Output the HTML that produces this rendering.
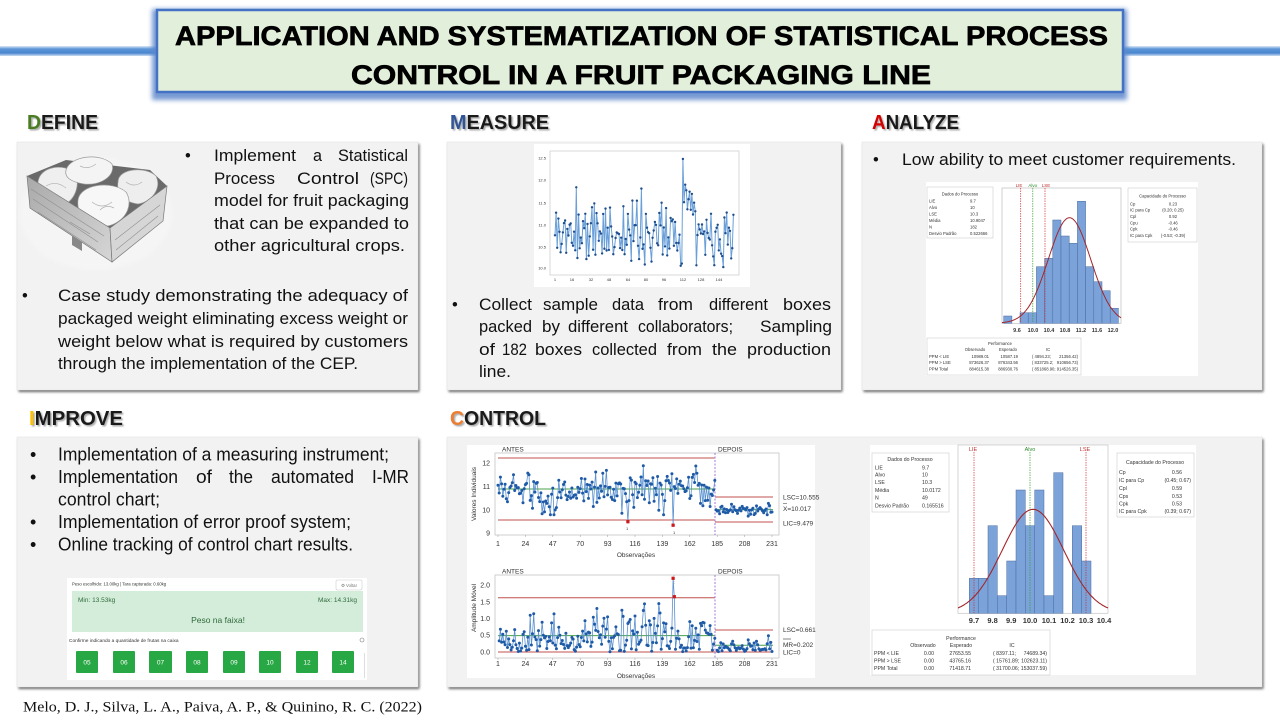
<!DOCTYPE html>
<html><head><meta charset="utf-8">
<style>
html,body{margin:0;padding:0;background:#fff;}
svg{display:block;}
text{font-family:"Liberation Sans",Arial,sans-serif;}
.t{fill:#111;}
.sm{fill:#333;}
</style></head><body>
<svg id="S" width="1280" height="720" viewBox="0 0 1280 720" xmlns="http://www.w3.org/2000/svg">
<defs>
<linearGradient id="bl" x1="0" y1="0" x2="0" y2="1">
<stop offset="0" stop-color="#dbe7f6"/><stop offset="0.3" stop-color="#5c96d8"/><stop offset="0.7" stop-color="#4a86cf"/><stop offset="1" stop-color="#cadcf2"/></linearGradient>
<linearGradient id="fa" x1="0" y1="0" x2="1" y2="1"><stop offset="0" stop-color="#a9a9a9"/><stop offset="1" stop-color="#d6d6d6"/></linearGradient>
<filter id="f1" x="-5%" y="-10%" width="110%" height="120%"><feGaussianBlur stdDeviation="1.3"/></filter>
<filter id="f2" x="-10%" y="-20%" width="120%" height="140%"><feGaussianBlur stdDeviation="2.5"/></filter>
<filter id="f05" x="-10%" y="-30%" width="120%" height="160%"><feGaussianBlur stdDeviation="0.7"/></filter>
</defs>
<rect width="1280" height="720" fill="#fff"/>

<!-- blue line + title -->
<rect x="0" y="46" width="1280" height="10" fill="url(#bl)"/>
<rect x="152" y="9" width="975" height="91" fill="#5f88cc" filter="url(#f2)" opacity="0.85"/>
<rect x="157" y="10" width="966" height="82" fill="#e2efda" stroke="#4472c4" stroke-width="2.5"/>
<text x="175" y="45" font-size="27" font-weight="bold" fill="#000" stroke="#000" stroke-width="0.7" textLength="933" lengthAdjust="spacingAndGlyphs">APPLICATION AND SYSTEMATIZATION OF STATISTICAL PROCESS</text>
<text x="351" y="84" font-size="27" font-weight="bold" fill="#000" stroke="#000" stroke-width="0.7" textLength="580" lengthAdjust="spacingAndGlyphs">CONTROL IN A FRUIT PACKAGING LINE</text>

<!-- headings -->
<g font-weight="bold">
<text x="28.5" y="130.5" font-size="20" fill="#aaa" textLength="71" lengthAdjust="spacingAndGlyphs" filter="url(#f05)">DEFINE</text>
<text x="27" y="129" font-size="20" fill="#1a1a1a" textLength="71" lengthAdjust="spacingAndGlyphs"><tspan fill="#4a7d22">D</tspan>EFINE</text>
<text x="451.5" y="130.5" font-size="20" fill="#aaa" textLength="99" lengthAdjust="spacingAndGlyphs" filter="url(#f05)">MEASURE</text>
<text x="450" y="129" font-size="20" fill="#1a1a1a" textLength="99" lengthAdjust="spacingAndGlyphs"><tspan fill="#2f5597">M</tspan>EASURE</text>
<text x="873.5" y="130.5" font-size="20" fill="#aaa" textLength="87" lengthAdjust="spacingAndGlyphs" filter="url(#f05)">ANALYZE</text>
<text x="872" y="129" font-size="20" fill="#1a1a1a" textLength="87" lengthAdjust="spacingAndGlyphs"><tspan fill="#d40000">A</tspan>NALYZE</text>
<text x="30.5" y="426.5" font-size="20" fill="#aaa" textLength="94" lengthAdjust="spacingAndGlyphs" filter="url(#f05)">IMPROVE</text>
<text x="29" y="425" font-size="20" fill="#1a1a1a" textLength="94" lengthAdjust="spacingAndGlyphs"><tspan fill="#ffc000">I</tspan>MPROVE</text>
<text x="451.5" y="426.5" font-size="20" fill="#aaa" textLength="96" lengthAdjust="spacingAndGlyphs" filter="url(#f05)">CONTROL</text>
<text x="450" y="425" font-size="20" fill="#1a1a1a" textLength="96" lengthAdjust="spacingAndGlyphs"><tspan fill="#ed7d31">C</tspan>ONTROL</text>
</g>

<!-- boxes -->
<g fill="#6a6a6a" filter="url(#f1)">
<rect x="18.5" y="144" width="401" height="248"/>
<rect x="448.5" y="144" width="394" height="248"/>
<rect x="863.5" y="144" width="400" height="248"/>
<rect x="18.5" y="439" width="401" height="250"/>
<rect x="448.5" y="439" width="815" height="250"/>
</g>
<g fill="#f2f2f2" stroke="#e2e2e2" stroke-width="0.5">
<rect x="17" y="142" width="401" height="248"/>
<rect x="447" y="142" width="394" height="248"/>
<rect x="862" y="142" width="400" height="248"/>
<rect x="17" y="437" width="401" height="250"/>
<rect x="447" y="437" width="815" height="250"/>
</g>

<!-- DEFINE crate -->
<g>
<ellipse cx="96" cy="214" rx="76" ry="56" fill="#f8f7f7" filter="url(#f2)" opacity="0.7"/>
<polygon points="27,176 66,160 150,170 167,186 110,228" fill="#6a6a6a"/>
<path d="M38,186 C36,168 60,162 74,172 C80,180 78,196 66,204 C52,208 40,200 38,186Z" fill="#efefef" stroke="#999" stroke-width="0.7"/>
<path d="M66,170 C70,156 100,152 112,164 C116,176 100,186 84,184 C72,182 64,178 66,170Z" fill="#f4f4f4" stroke="#999" stroke-width="0.7"/>
<path d="M118,182 C118,168 146,166 156,176 C162,188 152,202 138,204 C124,202 116,194 118,182Z" fill="#eeeeee" stroke="#999" stroke-width="0.7"/>
<path d="M78,200 C80,184 112,180 126,192 C134,204 126,222 108,226 C90,226 76,216 78,200Z" fill="#f7f7f7" stroke="#999" stroke-width="0.7"/>
<path d="M46,186 q10,-6 20,2 M80,166 q8,4 16,-2 M92,202 q10,8 20,0 M126,182 q8,6 16,0 M100,210 q6,-6 14,-2" stroke="#b0b0b0" stroke-width="0.7" fill="none"/>
<polygon points="27,176 110,228 112,262 30,208" fill="url(#fa)" stroke="#777" stroke-width="0.7"/>
<polygon points="110,228 167,186 163,221 112,262" fill="#d6d6d6" stroke="#777" stroke-width="0.7"/>
<path d="M31,189 L104,236 M33,199 L98,242 M38,212 L96,250 M115,240 L160,205 M116,250 L158,216 M40,184 L60,197 M70,222 L90,234" stroke="#8f8f8f" stroke-width="0.6"/>
<path d="M72,236 l10,6 l0,9 l-10,-6z" fill="#888"/>
</g>

<!-- DEFINE text -->
<g font-size="16.5" class="t">
<text x="185" y="161">•</text>
<text x="214" y="161" textLength="82" lengthAdjust="spacingAndGlyphs">Implement</text>
<text x="313" y="161" textLength="9" lengthAdjust="spacingAndGlyphs">a</text>
<text x="338" y="161" textLength="70" lengthAdjust="spacingAndGlyphs">Statistical</text>
<text x="214" y="184" textLength="61" lengthAdjust="spacingAndGlyphs">Process</text>
<text x="297" y="184" textLength="62" lengthAdjust="spacingAndGlyphs">Control</text>
<text x="370" y="184" textLength="38" lengthAdjust="spacingAndGlyphs">(SPC)</text>
<text x="214" y="206" textLength="195" lengthAdjust="spacingAndGlyphs">model for fruit packaging</text>
<text x="214" y="229" textLength="195" lengthAdjust="spacingAndGlyphs">that can be expanded to</text>
<text x="214" y="251" textLength="191" lengthAdjust="spacingAndGlyphs">other agricultural crops.</text>
<text x="22" y="301">•</text>
<text x="58" y="301" textLength="350" lengthAdjust="spacingAndGlyphs">Case study demonstrating the adequacy of</text>
<text x="58" y="324" textLength="350" lengthAdjust="spacingAndGlyphs">packaged weight eliminating excess weight or</text>
<text x="58" y="347" textLength="350" lengthAdjust="spacingAndGlyphs">weight below what is required by customers</text>
<text x="58" y="369" textLength="300" lengthAdjust="spacingAndGlyphs">through the implementation of the CEP.</text>
</g>

<!-- MEASURE chart -->
<rect x="534" y="144" width="216" height="143" fill="#fff"/>
<rect x="550" y="151" width="189" height="124" fill="none" stroke="#cfcfcf" stroke-width="0.8"/>
<g font-size="4" class="sm" text-anchor="end">
<text x="546" y="159.5">12.5</text><text x="546" y="181.5">12.0</text><text x="546" y="204.5">11.5</text>
<text x="546" y="226.5">11.0</text><text x="546" y="248.5">10.5</text><text x="546" y="269.5">10.0</text>
</g>
<g font-size="4" class="sm" text-anchor="middle">
<text x="555" y="281">1</text><text x="572" y="281">16</text><text x="591" y="281">32</text><text x="609" y="281">48</text>
<text x="628" y="281">64</text><text x="646" y="281">80</text><text x="664" y="281">96</text><text x="683" y="281">112</text>
<text x="701" y="281">128</text><text x="719" y="281">144</text>
</g>
<g id="mz"></g>

<!-- MEASURE text -->
<g font-size="16.5" class="t">
<text x="452" y="310">•</text>
<text x="479" y="310" textLength="53" lengthAdjust="spacingAndGlyphs">Collect</text>
<text x="543" y="310" textLength="55" lengthAdjust="spacingAndGlyphs">sample</text>
<text x="612" y="310" textLength="32" lengthAdjust="spacingAndGlyphs">data</text>
<text x="658" y="310" textLength="35" lengthAdjust="spacingAndGlyphs">from</text>
<text x="709" y="310" textLength="59" lengthAdjust="spacingAndGlyphs">different</text>
<text x="783" y="310" textLength="48" lengthAdjust="spacingAndGlyphs">boxes</text>
<text x="479" y="332" textLength="53" lengthAdjust="spacingAndGlyphs">packed</text>
<text x="542" y="332" textLength="18" lengthAdjust="spacingAndGlyphs">by</text>
<text x="568" y="332" textLength="60" lengthAdjust="spacingAndGlyphs">different</text>
<text x="638" y="332" textLength="95" lengthAdjust="spacingAndGlyphs">collaborators;</text>
<text x="760" y="332" textLength="72" lengthAdjust="spacingAndGlyphs">Sampling</text>
<text x="479" y="355" textLength="16" lengthAdjust="spacingAndGlyphs">of</text>
<text x="502" y="355" textLength="25" lengthAdjust="spacingAndGlyphs">182</text>
<text x="535" y="355" textLength="47" lengthAdjust="spacingAndGlyphs">boxes</text>
<text x="592" y="355" textLength="65" lengthAdjust="spacingAndGlyphs">collected</text>
<text x="667" y="355" textLength="35" lengthAdjust="spacingAndGlyphs">from</text>
<text x="712" y="355" textLength="25" lengthAdjust="spacingAndGlyphs">the</text>
<text x="747" y="355" textLength="84" lengthAdjust="spacingAndGlyphs">production</text>
<text x="479" y="377" textLength="32" lengthAdjust="spacingAndGlyphs">line.</text>
</g>

<!-- ANALYZE -->
<g font-size="16.5" class="t">
<text x="873" y="165">•</text>
<text x="902" y="165" textLength="334" lengthAdjust="spacingAndGlyphs">Low ability to meet customer requirements.</text>
</g>
<rect x="926" y="182" width="272" height="194" fill="#fff"/>
<rect x="927" y="187" width="66" height="51" fill="#fff" stroke="#ccc" stroke-width="0.6"/>
<g font-size="4.2" class="sm">
<text x="960" y="195.5" text-anchor="middle">Dados do Processo</text>
<text x="929" y="202.5">LIE</text><text x="970" y="202.5">9.7</text>
<text x="929" y="209">Alvo</text><text x="970" y="209">10</text>
<text x="929" y="215.5">LSE</text><text x="970" y="215.5">10.3</text>
<text x="929" y="222">Média</text><text x="970" y="222">10.9047</text>
<text x="929" y="228.5">N</text><text x="970" y="228.5">182</text>
<text x="929" y="235">Desvio Padrão</text><text x="970" y="235">0.522666</text>
</g>
<rect x="1002" y="188" width="119" height="135.3" fill="#fff" stroke="#bdbdbd" stroke-width="0.7"/>
<g fill="#7ba3d9" stroke="#4a6b9f" stroke-width="0.5">
<rect x="1003.7" y="316" width="8.2" height="7.3"/>
<rect x="1020" y="312.7" width="8.2" height="10.6"/>
<rect x="1028.2" y="312.7" width="8.2" height="10.6"/>
<rect x="1036.4" y="266.7" width="8.2" height="56.6"/>
<rect x="1044.6" y="258.3" width="8.2" height="65"/>
<rect x="1052.8" y="220" width="8.2" height="103.3"/>
<rect x="1061" y="236" width="8.2" height="87.3"/>
<rect x="1069.2" y="243.3" width="8.2" height="80"/>
<rect x="1077.4" y="201.3" width="8.2" height="122"/>
<rect x="1085.6" y="266.7" width="8.2" height="56.6"/>
<rect x="1093.8" y="281.7" width="8.2" height="41.6"/>
<rect x="1102" y="290.7" width="8.2" height="32.6"/>
<rect x="1110.2" y="308.3" width="8.2" height="15"/>
</g>
<g stroke-width="0.7" stroke-dasharray="1.5,1">
<line x1="1020.7" y1="188" x2="1020.7" y2="323" stroke="#d03030"/>
<line x1="1032.8" y1="188" x2="1032.8" y2="323" stroke="#30a030"/>
<line x1="1045" y1="188" x2="1045" y2="323" stroke="#d03030"/>
</g>
<g font-size="4.5" text-anchor="middle">
<text x="1019" y="187" fill="#c03030">LIE</text>
<text x="1032.8" y="187" fill="#2a8a2a">Alvo</text>
<text x="1046" y="187" fill="#c03030">LSE</text>
</g>
<path id="ca" fill="none" stroke="#a3262a" stroke-width="1"/>
<g font-size="5.5" font-weight="bold" class="sm" text-anchor="middle">
<text x="1017" y="332">9.6</text><text x="1033" y="332">10.0</text><text x="1049" y="332">10.4</text>
<text x="1065" y="332">10.8</text><text x="1081" y="332">11.2</text><text x="1097" y="332">11.6</text><text x="1113" y="332">12.0</text>
</g>
<rect x="1128" y="188" width="69" height="54" fill="#fff" stroke="#ccc" stroke-width="0.6"/>
<g font-size="4.2" class="sm">
<text x="1162.5" y="197.5" text-anchor="middle">Capacidade do Processo</text>
<text x="1130" y="205.5">Cp</text><text x="1173" y="205.5" text-anchor="middle">0.23</text>
<text x="1130" y="211.5">IC para Cp</text><text x="1173" y="211.5" text-anchor="middle">(0.20; 0.25)</text>
<text x="1130" y="218">Cpl</text><text x="1173" y="218" text-anchor="middle">0.92</text>
<text x="1130" y="224.5">Cpu</text><text x="1173" y="224.5" text-anchor="middle">-0.46</text>
<text x="1130" y="230.5">Cpk</text><text x="1173" y="230.5" text-anchor="middle">-0.46</text>
<text x="1130" y="237">IC para Cpk</text><text x="1173" y="237" text-anchor="middle">(-0.53; -0.39)</text>
</g>
<rect x="927" y="338" width="154" height="37" fill="#fff" stroke="#ccc" stroke-width="0.6"/>
<g font-size="4.2" class="sm">
<text x="1000" y="345" text-anchor="middle">Performance</text>
<text x="975" y="351" text-anchor="middle">Observado</text><text x="1008" y="351" text-anchor="middle">Esperado</text><text x="1048" y="351" text-anchor="middle">IC</text>
<text x="929" y="358">PPM &lt; LIE</text><text x="989" y="358" text-anchor="end">10989.01</text><text x="1018" y="358" text-anchor="end">10587.19</text><text x="1032" y="358">( 4894.23;</text><text x="1078" y="358" text-anchor="end">21356.42)</text>
<text x="929" y="364">PPM &gt; LSE</text><text x="989" y="364" text-anchor="end">873626.37</text><text x="1018" y="364" text-anchor="end">876343.56</text><text x="1032" y="364">( 833725.2;</text><text x="1078" y="364" text-anchor="end">910656.73)</text>
<text x="929" y="370.5">PPM Total</text><text x="989" y="370.5" text-anchor="end">884615.38</text><text x="1018" y="370.5" text-anchor="end">886930.76</text><text x="1032" y="370.5">( 851868.90;</text><text x="1078" y="370.5" text-anchor="end">914526.35)</text>
</g>

<!-- IMPROVE text -->
<g font-size="18" class="t">
<text x="30" y="460.5">•</text>
<text x="58" y="460.5" textLength="331" lengthAdjust="spacingAndGlyphs">Implementation of a measuring instrument;</text>
<text x="30" y="483">•</text>
<text x="58" y="483" textLength="120" lengthAdjust="spacingAndGlyphs">Implementation</text>
<text x="196" y="483" textLength="16" lengthAdjust="spacingAndGlyphs">of</text>
<text x="229" y="483" textLength="24" lengthAdjust="spacingAndGlyphs">the</text>
<text x="271" y="483" textLength="83" lengthAdjust="spacingAndGlyphs">automated</text>
<text x="372" y="483" textLength="37" lengthAdjust="spacingAndGlyphs">I-MR</text>
<text x="58" y="505.5" textLength="102" lengthAdjust="spacingAndGlyphs">control chart;</text>
<text x="30" y="528">•</text>
<text x="58" y="528" textLength="293" lengthAdjust="spacingAndGlyphs">Implementation of error proof system;</text>
<text x="30" y="550.5">•</text>
<text x="58" y="550.5" textLength="295" lengthAdjust="spacingAndGlyphs">Online tracking of control chart results.</text>
</g>

<!-- App UI -->
<rect x="67" y="578" width="300" height="102" fill="#fff"/>
<text x="72" y="585.5" font-size="4.3" class="sm">Peso escolhido: 13.00kg | Tara capturada: 0.60kg</text>
<rect x="336" y="580" width="26" height="10" rx="1.5" fill="#fff" stroke="#ccc" stroke-width="0.6"/>
<text x="349" y="586.8" font-size="4.3" fill="#777" text-anchor="middle">⚙ Voltar</text>
<rect x="72" y="591" width="291" height="41" fill="#d4edda"/>
<text x="78" y="602" font-size="6.5" fill="#2f6b3a">Min: 13.53kg</text>
<text x="357" y="602" font-size="6.5" fill="#2f6b3a" text-anchor="end">Max: 14.31kg</text>
<text x="218" y="623" font-size="8.5" fill="#2f6b3a" text-anchor="middle">Peso na faixa!</text>
<text x="69" y="642" font-size="4.8" class="sm">Confirme indicando a quantidade de frutas na caixa</text>
<circle cx="362" cy="640" r="2" fill="none" stroke="#777" stroke-width="0.6"/>
<g fill="#28a745">
<rect x="76" y="651" width="22" height="22" rx="1"/><rect x="113" y="651" width="22" height="22" rx="1"/>
<rect x="149" y="651" width="23" height="22" rx="1"/><rect x="186" y="651" width="22" height="22" rx="1"/>
<rect x="223" y="651" width="22" height="22" rx="1"/><rect x="259" y="651" width="22" height="22" rx="1"/>
<rect x="296" y="651" width="22" height="22" rx="1"/><rect x="332" y="651" width="22" height="22" rx="1"/>
</g>
<g font-size="6.5" fill="#fff" text-anchor="middle">
<text x="87" y="664.5">05</text><text x="124" y="664.5">06</text><text x="160.5" y="664.5">07</text><text x="197" y="664.5">08</text>
<text x="234" y="664.5">09</text><text x="270" y="664.5">10</text><text x="307" y="664.5">12</text><text x="343" y="664.5">14</text>
</g>
<line x1="364.5" y1="653" x2="364.5" y2="678" stroke="#ddd" stroke-width="1"/>

<!-- citation -->
<text x="23" y="711.5" font-size="15" fill="#111" style="font-family:'Liberation Serif',serif" textLength="399" lengthAdjust="spacingAndGlyphs">Melo, D. J., Silva, L. A., Paiva, A. P., &amp; Quinino, R. C. (2022)</text>

<!-- CONTROL I-MR charts -->
<rect x="467" y="445" width="348" height="233" fill="#fff"/>
<rect x="495" y="453" width="284" height="82" fill="none" stroke="#c4c4c4" stroke-width="0.8"/>
<rect x="495" y="575" width="284" height="83" fill="none" stroke="#c4c4c4" stroke-width="0.8"/>
<g font-size="6.5" class="sm">
<text x="502" y="451.5">ANTES</text><text x="718" y="451.5">DEPOIS</text>
<text x="502" y="573.5">ANTES</text><text x="718" y="573.5">DEPOIS</text>
</g>
<g font-size="7" class="sm" text-anchor="end">
<text x="490" y="465.5">12</text><text x="490" y="489">11</text><text x="490" y="512.5">10</text><text x="490" y="535.5">9</text>
<text x="490" y="587.5">2.0</text><text x="490" y="604.5">1.5</text><text x="490" y="621">1.0</text><text x="490" y="637.5">0.5</text><text x="490" y="654.5">0.0</text>
</g>
<g font-size="7" class="sm" text-anchor="middle" id="xt"></g>
<g font-size="6.5" class="sm" text-anchor="middle">
<text x="636" y="557">Observações</text>
<text x="636" y="678">Observações</text>
<text transform="translate(476,494) rotate(-90)">Valores Individuais</text>
<text transform="translate(476,608) rotate(-90)">Amplitude Móvel</text>
</g>
<g stroke-width="1" fill="none">
<line x1="498" y1="458" x2="715" y2="458" stroke="#c0504d"/>
<line x1="498" y1="489" x2="715" y2="489" stroke="#4aa04a"/>
<line x1="498" y1="520" x2="715" y2="520" stroke="#c0504d"/>
<line x1="715" y1="497" x2="773" y2="497" stroke="#c0504d"/>
<line x1="715" y1="509.6" x2="773" y2="509.6" stroke="#4aa04a"/>
<line x1="715" y1="522" x2="773" y2="522" stroke="#c0504d"/>
<line x1="498" y1="597.7" x2="715" y2="597.7" stroke="#c0504d"/>
<line x1="498" y1="635.6" x2="715" y2="635.6" stroke="#4aa04a"/>
<line x1="498" y1="652" x2="715" y2="652" stroke="#c0504d"/>
<line x1="715" y1="630" x2="773" y2="630" stroke="#c0504d"/>
<line x1="715" y1="645.2" x2="773" y2="645.2" stroke="#4aa04a"/>
<line x1="715" y1="652" x2="773" y2="652" stroke="#c0504d"/>
<line x1="715" y1="453" x2="715" y2="535" stroke="#a47ad6" stroke-dasharray="2,1.5"/>
<line x1="715" y1="575" x2="715" y2="658" stroke="#a47ad6" stroke-dasharray="2,1.5"/>
<line x1="674" y1="575" x2="674" y2="585" stroke="#999" stroke-dasharray="1,1" stroke-width="0.6"/>
</g>
<g id="ic"></g>
<g font-size="6.5" class="sm">
<text x="783" y="499.5">LSC=10.555</text>
<text x="783" y="511">X=10.017</text>
<text x="783" y="525.5">LIC=9.479</text>
<text x="783" y="632">LSC=0.661</text>
<text x="783" y="647">MR=0.202</text>
<text x="783" y="654.5">LIC=0</text>
<text x="626" y="530" font-size="4">1</text>
<text x="673" y="534" font-size="4">1</text>
</g>
<line x1="783" y1="503.5" x2="787" y2="503.5" stroke="#333" stroke-width="0.5"/>
<line x1="783" y1="639" x2="791" y2="639" stroke="#333" stroke-width="0.6"/>

<!-- CONTROL histogram -->
<rect x="870" y="445" width="326" height="230" fill="#fff"/>
<rect x="872" y="453" width="77" height="59" fill="#fff" stroke="#ccc" stroke-width="0.6"/>
<g font-size="5.2" class="sm">
<text x="910" y="461" text-anchor="middle">Dados do Processo</text>
<text x="875" y="469.5">LIE</text><text x="922" y="469.5">9.7</text>
<text x="875" y="476.5">Alvo</text><text x="922" y="476.5">10</text>
<text x="875" y="484">LSE</text><text x="922" y="484">10.3</text>
<text x="875" y="492">Média</text><text x="922" y="492">10.0172</text>
<text x="875" y="499.5">N</text><text x="922" y="499.5">49</text>
<text x="875" y="507.5">Desvio Padrão</text><text x="922" y="507.5">0.165516</text>
</g>
<rect x="958" y="445" width="150" height="168.3" fill="#fff" stroke="#c4c4c4" stroke-width="0.7"/>
<g fill="#7ba3d9" stroke="#4a6b9f" stroke-width="0.5">
<rect x="969.3" y="578.3" width="9.4" height="35"/>
<rect x="978.7" y="578.3" width="9.3" height="35"/>
<rect x="988" y="525.7" width="9.3" height="87.6"/>
<rect x="997.3" y="595.7" width="9.4" height="17.6"/>
<rect x="1006.7" y="561" width="9.3" height="52.3"/>
<rect x="1016" y="490" width="9.3" height="123.3"/>
<rect x="1025.3" y="525.7" width="9.4" height="87.6"/>
<rect x="1034.7" y="490" width="9.3" height="123.3"/>
<rect x="1044" y="595.7" width="9.7" height="17.6"/>
<rect x="1053.7" y="472.7" width="9.3" height="140.6"/>
<rect x="1072.3" y="525.7" width="9.4" height="87.6"/>
<rect x="1081.7" y="561" width="9.3" height="52.3"/>
</g>
<g stroke-width="0.7" stroke-dasharray="1.5,1">
<line x1="974" y1="452" x2="974" y2="613" stroke="#d03030"/>
<line x1="1030" y1="452" x2="1030" y2="613" stroke="#30a030"/>
<line x1="1086" y1="452" x2="1086" y2="613" stroke="#d03030"/>
</g>
<g font-size="5.5" text-anchor="middle">
<text x="973" y="451" fill="#c03030">LIE</text>
<text x="1030" y="451" fill="#2a8a2a">Alvo</text>
<text x="1085" y="451" fill="#c03030">LSE</text>
</g>
<path id="cb" fill="none" stroke="#a3262a" stroke-width="1.1"/>
<g font-size="7.5" font-weight="bold" class="sm" text-anchor="middle">
<text x="974" y="623">9.7</text><text x="992.6" y="623">9.8</text><text x="1011.2" y="623">9.9</text><text x="1030" y="623">10.0</text>
<text x="1049" y="623">10.1</text><text x="1067.5" y="623">10.2</text><text x="1086" y="623">10.3</text><text x="1104" y="623">10.4</text>
</g>
<rect x="1117" y="453" width="77" height="64" fill="#fff" stroke="#ccc" stroke-width="0.6"/>
<g font-size="5.2" class="sm">
<text x="1155" y="464" text-anchor="middle">Capacidade do Processo</text>
<text x="1119" y="474">Cp</text><text x="1182" y="474" text-anchor="end">0.56</text>
<text x="1119" y="482">IC para Cp</text><text x="1191" y="482" text-anchor="end">(0.45; 0.67)</text>
<text x="1119" y="490">Cpl</text><text x="1182" y="490" text-anchor="end">0.59</text>
<text x="1119" y="498">Cps</text><text x="1182" y="498" text-anchor="end">0.53</text>
<text x="1119" y="505.5">Cpk</text><text x="1182" y="505.5" text-anchor="end">0.53</text>
<text x="1119" y="513">IC para Cpk</text><text x="1191" y="513" text-anchor="end">(0.39; 0.67)</text>
</g>
<rect x="872" y="630" width="178" height="45" fill="#fff" stroke="#ccc" stroke-width="0.6"/>
<g font-size="5.2" class="sm">
<text x="961" y="640" text-anchor="middle">Performance</text>
<text x="923" y="647" text-anchor="middle">Observado</text><text x="961" y="647" text-anchor="middle">Esperado</text><text x="1012" y="647" text-anchor="middle">IC</text>
<text x="874" y="655">PPM &lt; LIE</text><text x="934" y="655" text-anchor="end">0.00</text><text x="971" y="655" text-anchor="end">27653.55</text><text x="993" y="655">( 8397.11;</text><text x="1047" y="655" text-anchor="end">74689.34)</text>
<text x="874" y="662.5">PPM &gt; LSE</text><text x="934" y="662.5" text-anchor="end">0.00</text><text x="971" y="662.5" text-anchor="end">43765.16</text><text x="993" y="662.5">( 15761.89;</text><text x="1047" y="662.5" text-anchor="end">102623.11)</text>
<text x="874" y="670">PPM Total</text><text x="934" y="670" text-anchor="end">0.00</text><text x="971" y="670" text-anchor="end">71418.71</text><text x="993" y="670">( 31700.06;</text><text x="1047" y="670" text-anchor="end">153037.59)</text>
</g>
</svg>
<script>
(function(){
var NS="http://www.w3.org/2000/svg";
function mb(a){return function(){a|=0;a=a+0x6D2B79F5|0;var t=Math.imul(a^a>>>15,1|a);t=t+Math.imul(t^t>>>7,61|t)^t;return((t^t>>>14)>>>0)/4294967296;};}
function el(tag,at,p){var e=document.createElementNS(NS,tag);for(var k in at)e.setAttribute(k,at[k]);p.appendChild(e);return e;}
function line(g,xs,ys,c,w){var s=[];for(var i=0;i<xs.length;i++)s.push(xs[i].toFixed(1)+","+ys[i].toFixed(1));el("polyline",{points:s.join(" "),fill:"none",stroke:c,"stroke-width":w,"stroke-linejoin":"round"},g);}
function dots(g,xs,ys,c,r){for(var i=0;i<xs.length;i++)el("circle",{cx:xs[i].toFixed(1),cy:ys[i].toFixed(1),r:r,fill:c},g);}
var i,n,v;
/* measure */
var R=mb(11),m=[];
for(i=0;i<160;i++){n=(R()+R()+R()-1.5)/1.5;v=10.8+n*1.0+(i%2?0.15:-0.15);if(i>=114&&i<=124)v=11.7+n*0.5;v=Math.max(10.02,Math.min(11.95,v));m.push(v);}
m[19]=11.85;m[77]=11.82;m[112]=10.05;m[113]=10.1;m[114]=12.5;
var g=document.getElementById("mz"),xs=[],ys=[];
for(i=0;i<m.length;i++){xs.push(555+i*1.122);ys.push(268-(m[i]-10)*43.6);}
line(g,xs,ys,"#6a9fd8",1.0);dots(g,xs,ys,"#1f4e8c",1.2);
/* I chart */
var R2=mb(5),I=[];
for(i=0;i<183;i++){n=(R2()+R2()+R2()-1.5)/1.5;var mu=(i>=36&&i<=50)?10.3:10.9;v=mu+n*1.3;v=Math.max(9.8,Math.min(12.1,v));if(i>0&&Math.abs(v-I[i-1])>1.45){v=I[i-1]+(v>I[i-1]?1:-1)*(0.4+R2()*0.9);v=Math.max(9.8,Math.min(12.1,v));}I.push(v);}
I[108]=10.35;I[109]=9.5;I[110]=10.4;I[146]=11.55;I[147]=9.35;I[148]=11.0;
for(i=183;i<231;i++){n=(R2()+R2()+R2()-1.5)/1.5;I.push(10.02+n*0.35);}
function X(i){return 498+i*1.1913;}
var gi=document.getElementById("ic");
var bx=[],by=[],ax=[],ay=[];
for(i=0;i<183;i++){bx.push(X(i));by.push(510-(I[i]-10)*23.4);}
for(i=183;i<231;i++){ax.push(X(i));ay.push(510-(I[i]-10)*23.4);}
line(gi,bx,by,"#5a90d0",0.8);line(gi,ax,ay,"#5a90d0",0.8);
dots(gi,bx,by,"#1f5aa6",1.5);dots(gi,ax,ay,"#1f5aa6",1.5);
[109,147].forEach(function(k){el("rect",{x:(X(k)-1.6).toFixed(1),y:(510-(I[k]-10)*23.4-1.6).toFixed(1),width:3.2,height:3.2,fill:"#d01818"},gi);});
/* MR chart */
var mbx=[],mby=[],max=[],may=[];
for(i=1;i<183;i++){mbx.push(X(i));mby.push(652-Math.abs(I[i]-I[i-1])*33.5);}
for(i=184;i<231;i++){max.push(X(i));may.push(652-Math.abs(I[i]-I[i-1])*33.5);}
line(gi,mbx,mby,"#5a90d0",0.8);line(gi,max,may,"#5a90d0",0.8);
dots(gi,mbx,mby,"#1f5aa6",1.5);dots(gi,max,may,"#1f5aa6",1.5);
[147,148].forEach(function(k){var mr=Math.abs(I[k]-I[k-1]);el("rect",{x:(X(k)-1.6).toFixed(1),y:(652-mr*33.5-1.6).toFixed(1),width:3.2,height:3.2,fill:"#d01818"},gi);});
/* x tick labels */
var xt=document.getElementById("xt"),labs=[1,24,47,70,93,116,139,162,185,208,231];
labs.forEach(function(L){var x=X(L-1);var t=el("text",{x:x.toFixed(1),y:546},xt);t.textContent=L;var t2=el("text",{x:x.toFixed(1),y:666},xt);t2.textContent=L;
el("line",{x1:x,y1:535,x2:x,y2:537,stroke:"#999","stroke-width":0.5},xt);el("line",{x1:x,y1:658,x2:x,y2:660,stroke:"#999","stroke-width":0.5},xt);});
/* curves */
var d="";for(var x=1002;x<=1121;x+=1){var y=323.3-105.6*Math.exp(-0.5*Math.pow((x-1069.5)/21.2,2));d+=(x==1002?"M":"L")+x+","+y.toFixed(1);}
document.getElementById("ca").setAttribute("d",d);
d="";for(x=958;x<=1108;x+=1){var vv=9.7+(x-974)/186;y=613.3-104*Math.exp(-0.5*Math.pow((vv-10.0172)/0.1655,2));d+=(x==958?"M":"L")+x+","+y.toFixed(1);}
document.getElementById("cb").setAttribute("d",d);
})();
</script>
</body></html>
